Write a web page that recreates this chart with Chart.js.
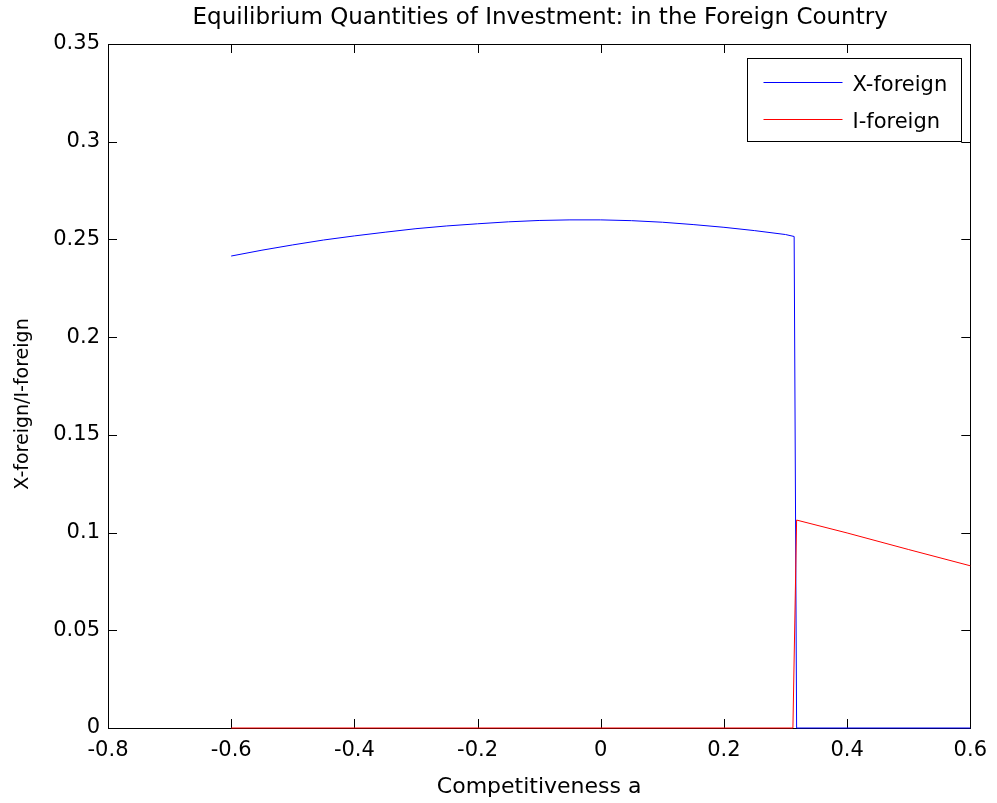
<!DOCTYPE html>
<html>
<head>
<meta charset="utf-8">
<script src="https://cdn.jsdelivr.net/npm/chart.js@4.4.1/dist/chart.umd.min.js"></script>
<style>
  body { margin: 0; background: #fff; }
  canvas { display: block; }
</style>
</head>
<body>
<canvas id="chartCanvas" width="997" height="803"></canvas>
<script>
// values
var xForeignA = [-0.6, -0.55, -0.5, -0.45, -0.4, -0.35, -0.3, -0.25, -0.2, -0.15, -0.1, -0.05, 0, 0.05, 0.1, 0.15, 0.2, 0.25, 0.3, 0.314, 0.318, 0.6];
var xForeignVal = [0.2415, 0.2445, 0.2472, 0.2497, 0.2518, 0.2537, 0.2555, 0.2569, 0.2580, 0.2590, 0.2597, 0.2600, 0.2600, 0.2596, 0.2588, 0.2576, 0.2562, 0.2545, 0.2525, 0.2515, 0, 0];
var iForeignA = [-0.6, 0.312, 0.318, 0.4, 0.5, 0.6];
var iForeignVal = [0, 0, 0.1064, 0.0998, 0.0913, 0.083];
var seriesNames = ["X-foreign", "I-foreign"];
var xTicks = [-0.8, -0.6, -0.4, -0.2, 0, 0.2, 0.4, 0.6];
var yTicks = [0, 0.05, 0.1, 0.15, 0.2, 0.25, 0.3, 0.35];
var chartTitle = "Equilibrium Quantities of Investment: in the Foreign Country";
var yTitle = "X-foreign/I-foreign";

var FONT = "'DejaVu Sans', sans-serif";

function toPoints(xs, ys) {
    return xs.map(function (x, i) { return { x: x, y: ys[i] }; });
}

function fmt(v) {
    return String(Number(v.toFixed(2)));
}

// box round the axes, ticks pointing inward (matlab style), titles
var boxPlugin = {
    id: "box",
    beforeDatasetsDraw: function (chart) {
        var ctx = chart.ctx;
        var a = chart.chartArea;
        var xs = chart.scales.x, ys = chart.scales.y;
        var len = 9;
        ctx.save();
        ctx.strokeStyle = "#000";
        ctx.lineWidth = 1;
        ctx.beginPath();
        xTicks.forEach(function (v) {
            var px = Math.round(xs.getPixelForValue(v)) + 0.5;
            ctx.moveTo(px, a.bottom); ctx.lineTo(px, a.bottom - len);
            ctx.moveTo(px, a.top); ctx.lineTo(px, a.top + len);
        });
        yTicks.forEach(function (v) {
            var py = Math.round(ys.getPixelForValue(v)) + 0.5;
            ctx.moveTo(a.left, py); ctx.lineTo(a.left + len, py);
            ctx.moveTo(a.right, py); ctx.lineTo(a.right - len, py);
        });
        ctx.stroke();
        ctx.strokeRect(Math.round(a.left) + 0.5, Math.round(a.top) + 0.5, Math.round(a.right - a.left), Math.round(a.bottom - a.top));

        ctx.fillStyle = "#000";
        ctx.textAlign = "center";
        ctx.textBaseline = "middle";
        ctx.font = "23px " + FONT;
        ctx.fillText(chartTitle, (a.left + a.right) / 2 + 1, 18);

        ctx.font = "19px " + FONT;
        ctx.translate(23, 404);
        ctx.rotate(-Math.PI / 2);
        ctx.fillText(yTitle, 0, 0);
        ctx.restore();
    }
};

var legendPlugin = {
    id: "boxLegend",
    afterDraw: function (chart) {
        var ctx = chart.ctx;
        var a = chart.chartArea;
        var w = 214, h = 83;
        var bx = Math.round(a.right - 9 - w) + 0.5;
        var by = Math.round(a.top + 14) + 0.5;
        ctx.save();
        ctx.fillStyle = "#fff";
        ctx.fillRect(bx, by, w, h);
        ctx.strokeStyle = "#000";
        ctx.lineWidth = 1;
        ctx.strokeRect(bx, by, w, h);
        ctx.font = "21px " + FONT;
        ctx.textBaseline = "middle";
        ctx.fillStyle = "#000";
        chart.data.datasets.forEach(function (ds, i) {
            var ly = Math.round(by + 23 + i * 37) + 0.5;
            ctx.strokeStyle = ds.borderColor;
            ctx.beginPath();
            ctx.moveTo(bx + 16, ly);
            ctx.lineTo(bx + 95, ly);
            ctx.stroke();
            ctx.fillText(ds.label, bx + 105, ly + 3);
        });
        ctx.restore();
    }
};

var chart = new Chart(document.getElementById("chartCanvas"), {
    type: "line",
    data: {
        datasets: [
            {
                label: seriesNames[0],
                data: toPoints(xForeignA, xForeignVal),
                borderColor: "#0000ff",
                borderWidth: 1,
                pointRadius: 0,
                tension: 0,
                clip: 4,
                order: 1
            },
            {
                label: seriesNames[1],
                data: toPoints(iForeignA, iForeignVal),
                borderColor: "#ff0000",
                borderWidth: 1,
                pointRadius: 0,
                tension: 0,
                clip: 4,
                order: 0
            }
        ]
    },
    options: {
        responsive: false,
        animation: false,
        layout: { padding: { top: 44, right: 24 } },
        plugins: {
            legend: { display: false },
            tooltip: { enabled: false },
            title: { display: false }
        },
        scales: {
            x: {
                type: "linear",
                min: -0.8,
                max: 0.6,
                afterBuildTicks: function (s) { s.ticks = xTicks.map(function (v) { return { value: v }; }); },
                afterFit: function (s) { s.height = 75; },
                grid: { display: false, drawTicks: false },
                border: { display: false },
                ticks: {
                    color: "#000",
                    padding: 10,
                    maxRotation: 0,
                    font: { family: FONT, size: 21 },
                    callback: function (v) { return fmt(v); }
                },
                title: {
                    display: true,
                    text: "Competitiveness a",
                    color: "#000",
                    font: { family: FONT, size: 22 },
                    padding: { top: 0, bottom: 3 }
                }
            },
            y: {
                type: "linear",
                min: 0,
                max: 0.35,
                afterBuildTicks: function (s) { s.ticks = yTicks.map(function (v) { return { value: v }; }); },
                afterFit: function (s) { s.width = 108; },
                grid: { display: false, drawTicks: false },
                border: { display: false },
                ticks: {
                    color: "#000",
                    padding: 8,
                    font: { family: FONT, size: 21 },
                    callback: function (v) { return fmt(v); }
                },
                title: { display: false }
            }
        }
    },
    plugins: [boxPlugin, legendPlugin]
});
</script>
</body>
</html>
